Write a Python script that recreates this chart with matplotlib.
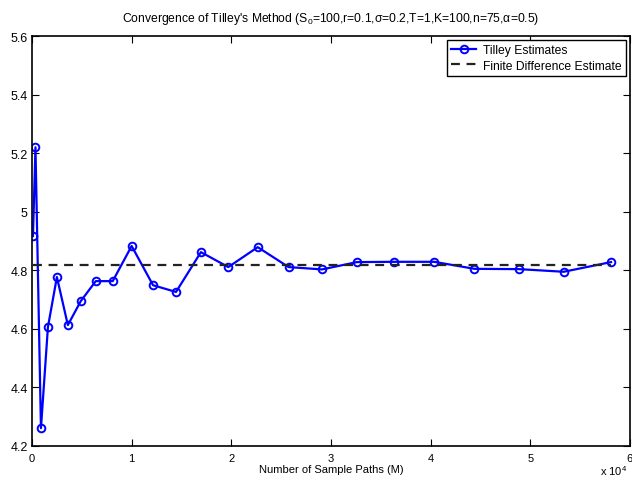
import matplotlib
matplotlib.use("Agg")
import matplotlib.pyplot as plt
from matplotlib.ticker import FuncFormatter

plt.rcParams['font.family'] = ['Liberation Sans', 'DejaVu Sans']
plt.rcParams['mathtext.fontset'] = 'custom'
plt.rcParams['mathtext.rm'] = 'Liberation Sans'
plt.rcParams['mathtext.it'] = 'Liberation Sans'

# Tilley estimates vs number of sample paths
paths = [100, 350, 900, 1600, 2500, 3600, 4900, 6400, 8100, 10000,
         12150, 14450, 16950, 19700, 22650, 25750, 29100, 32600,
         36350, 40350, 44400, 48850, 53350, 58100]
tilley = [4.917, 5.220, 4.261, 4.606, 4.777, 4.613, 4.695, 4.763, 4.763, 4.883,
          4.749, 4.726, 4.862, 4.811, 4.879, 4.811, 4.803, 4.828,
          4.829, 4.829, 4.805, 4.804, 4.795, 4.828]
fd_estimate = 4.818

fig = plt.figure(figsize=(6.32, 4.81), dpi=100)
ax = fig.add_axes([0.0506, 0.0707, 0.9462, 0.8523])

ax.plot(paths, tilley, '-o', color='blue', lw=1.6, ms=5.5,
        mfc='none', mew=1.4, label='Tilley Estimates')
ax.plot([paths[0], paths[-1]], [fd_estimate, fd_estimate], '--',
        color='#222222', lw=1.6, dashes=(4, 3), label='Finite Difference Estimate')

ax.set_xlim(0, 60000)
ax.set_ylim(4.2, 5.6)
ax.set_xticks(range(0, 60001, 10000))
ax.set_yticks([4.2, 4.4, 4.6, 4.8, 5.0, 5.2, 5.4, 5.6])
ax.xaxis.set_major_formatter(FuncFormatter(lambda v, p: '%g' % (v / 1e4)))
ax.yaxis.set_major_formatter(FuncFormatter(lambda v, p: '%g' % v))
ax.tick_params(direction='in', top=True, right=True, labelsize=8, length=5)
ax.tick_params(axis='x', pad=5)
ax.tick_params(axis='y', pad=3, labelsize=9)
for s in ax.spines.values():
    s.set_linewidth(1.2)

# multiplier for the x axis, bottom right like MATLAB
ax.text(0.995, -0.042, r'x 10$^{4}$', transform=ax.transAxes, fontsize=8,
        ha='right', va='top')
ax.set_xlabel('Number of Sample Paths (M)', fontsize=8, labelpad=1)
ax.set_title(r"Convergence of Tilley's Method (S$_0$=100,r=0.1,σ=0.2,T=1,K=100,n=75,α=0.5)",
             fontsize=8.7, pad=11)

leg = ax.legend(loc='upper right', fontsize=8.7, fancybox=False, framealpha=1,
                edgecolor='black', borderaxespad=0.35, handlelength=2.0,
                borderpad=0.35, labelspacing=0.25, handletextpad=0.6)
leg.get_frame().set_linewidth(1.0)

fig.savefig('out.png', dpi=100)
